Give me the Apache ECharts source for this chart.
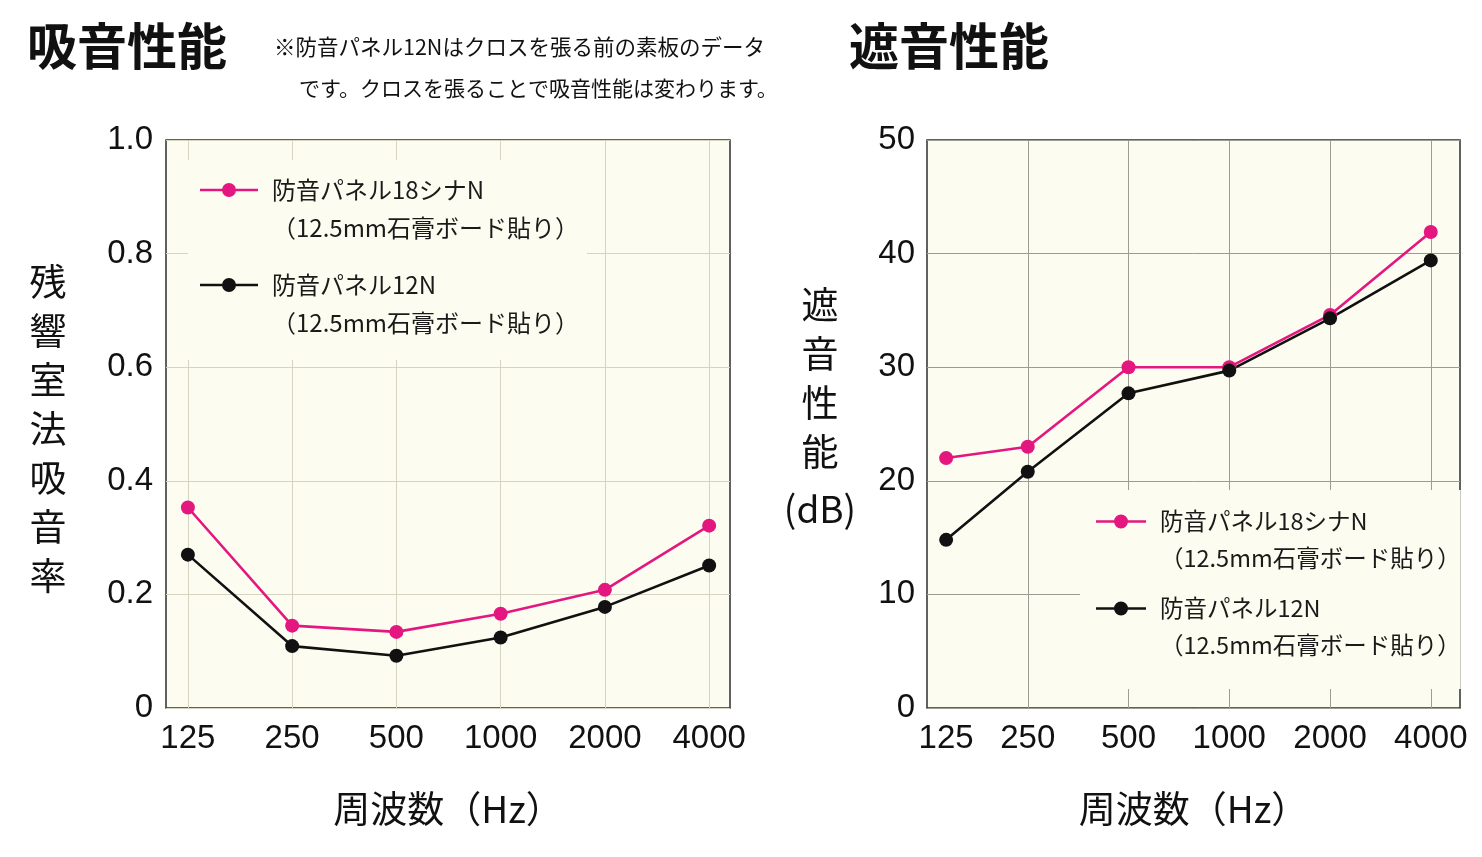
<!DOCTYPE html>
<html>
<head>
<meta charset="utf-8">
<script src="https://cdn.jsdelivr.net/npm/echarts@6/dist/echarts.min.js"></script>
<style>
html,body{margin:0;padding:0;background:#fff;}
#main{width:1482px;height:857px;}
</style>
</head>
<body>
<div id="main"></div>
<script>
// ---- data ----
const freqLabels = ['125', '250', '500', '1000', '2000', '4000'];
const seriesNames = ['防音パネル18シナN', '防音パネル12N'];
const seriesSubLabel = '（12.5mm石膏ボード貼り）';
// 吸音性能 (残響室法吸音率)
const absorptionShinaN = [0.353, 0.145, 0.134, 0.166, 0.208, 0.321];
const absorption12N    = [0.270, 0.109, 0.092, 0.124, 0.178, 0.251];
// 遮音性能 (dB)
const insulationShinaN = [22.0, 23.0, 30.0, 30.0, 34.6, 41.9];
const insulation12N    = [14.8, 20.8, 27.7, 29.7, 34.3, 39.4];

// axis positions of the frequency bands (left chart evenly spaced; right chart 125 squeezed in)
const absorptionXPos = [0, 1, 2, 3, 4, 5];
const insulationXPos = [0.19, 1, 2, 3, 4, 5];

const PINK = '#e3177f';
const BLACK = '#111111';
const CJK = '"Noto Sans CJK JP", "Noto Sans", sans-serif';
const NUM = '"Liberation Sans Narrow", "Liberation Sans", Arial, sans-serif';

function pairs(xs, ys) { return xs.map((x, i) => [x, ys[i]]); }
function labelFor(xs) {
  return function (v) {
    for (let i = 0; i < xs.length; i++) if (Math.abs(xs[i] - v) < 1e-6) return freqLabels[i];
    return '';
  };
}
// legend icon: line + dot aligned with the first text line
function legendIcon(w, h, cy, r, lw) {
  const y0 = cy - lw / 2, y1 = cy + lw / 2;
  const cx = w / 2;
  return 'path://' +
    'M0 0L0.01 0L0 0.01Z ' +
    'M' + w + ' ' + h + 'L' + (w - 0.01) + ' ' + h + 'L' + w + ' ' + (h - 0.01) + 'Z ' +
    'M0 ' + y0 + 'L' + w + ' ' + y0 + 'L' + w + ' ' + y1 + 'L0 ' + y1 + 'Z ' +
    'M' + (cx - r) + ' ' + cy + 'A' + r + ' ' + r + ' 0 1 1 ' + (cx + r) + ' ' + cy +
    'A' + r + ' ' + r + ' 0 1 1 ' + (cx - r) + ' ' + cy + 'Z';
}

const chart = echarts.init(document.getElementById('main'));

function lineSeries(name, color, xi, yi, xs, ys) {
  return {
    type: 'line', name: name, xAxisIndex: xi, yAxisIndex: yi,
    data: pairs(xs, ys),
    symbol: 'circle', symbolSize: 14,
    lineStyle: { color: color, width: 2.6 },
    itemStyle: { color: color, borderWidth: 0 },
    emphasis: { disabled: true },
    animation: false
  };
}

const vNameRich = {
  c: { fontSize: 37, lineHeight: 49, fontFamily: CJK, color: '#111', align: 'center' },
  d: { fontSize: 37, lineHeight: 65, fontFamily: CJK, color: '#111', align: 'center' },
  e: { fontSize: 9, lineHeight: 9, color: 'transparent' },
  f: { fontSize: 26, lineHeight: 26, color: 'transparent' }
};

const option = {
  backgroundColor: '#ffffff',
  animation: false,
  title: [
    { text: '吸音性能', left: 27, top: 21, padding: 0,
      textStyle: { fontSize: 50, fontWeight: 'bold', fontFamily: CJK, color: '#111' } },
    { text: '遮音性能', left: 849, top: 21, padding: 0,
      textStyle: { fontSize: 50, fontWeight: 'bold', fontFamily: CJK, color: '#111' } },
    { text: '※防音パネル12Nはクロスを張る前の素板のデータ', left: 274, top: 36, padding: 0,
      textStyle: { fontSize: 21.5, fontWeight: 'normal', fontFamily: CJK, color: '#111' } },
    { text: 'です。クロスを張ることで吸音性能は変わります。', left: 299, top: 78, padding: 0,
      textStyle: { fontSize: 21, fontWeight: 'normal', fontFamily: CJK, color: '#111' } }
  ],
  grid: [
    { left: 166, right: 1482 - 730, top: 140, bottom: 857 - 708, show: true,
      backgroundColor: '#fdfcf0', borderColor: '#2e2e2e', borderWidth: 1.5 },
    { left: 927, right: 1482 - 1460, top: 140, bottom: 857 - 708, show: true,
      backgroundColor: '#fdfcf0', borderColor: '#2e2e2e', borderWidth: 1.5 }
  ],
  xAxis: [
    { type: 'value', gridIndex: 0, min: -0.21, max: 5.2,
      axisLine: { show: false },
      axisTick: { show: false, customValues: absorptionXPos },
      axisLabel: { customValues: absorptionXPos, formatter: labelFor(absorptionXPos),
        fontSize: 33, fontFamily: NUM, color: '#111', margin: 14 },
      splitLine: { show: true, lineStyle: { color: '#d6d3c1', width: 1 } },
      name: '周波数（Hz）', nameLocation: 'middle', nameGap: 82,
      nameTextStyle: { fontSize: 37, fontFamily: CJK, color: '#111' } },
    { type: 'value', gridIndex: 1, min: 0, max: 5.29,
      axisLine: { show: false },
      axisTick: { show: false, customValues: [1, 2, 3, 4, 5] },
      axisLabel: { customValues: insulationXPos, formatter: labelFor(insulationXPos),
        fontSize: 33, fontFamily: NUM, color: '#111', margin: 14 },
      splitLine: { show: true, lineStyle: { color: '#9c9b94', width: 1 } },
      name: '周波数（Hz）', nameLocation: 'middle', nameGap: 82,
      nameTextStyle: { fontSize: 37, fontFamily: CJK, color: '#111' } }
  ],
  yAxis: [
    { type: 'value', gridIndex: 0, min: 0, max: 1, interval: 0.2,
      axisLine: { show: false }, axisTick: { show: false },
      axisLabel: { fontSize: 33, fontFamily: NUM, color: '#111', margin: 13,
        formatter: v => (v === 0 ? '0' : v.toFixed(1)) },
      splitLine: { show: true, lineStyle: { color: '#d6d3c1', width: 1 } },
      name: '{e| }\n{c|残}\n{c|響}\n{c|室}\n{c|法}\n{c|吸}\n{c|音}\n{c|率}',
      nameLocation: 'middle', nameGap: 118, nameRotate: 0,
      nameTextStyle: { fontSize: 37, lineHeight: 49, fontFamily: CJK, color: '#111',
        align: 'center', verticalAlign: 'middle', rich: vNameRich } },
    { type: 'value', gridIndex: 1, min: 0, max: 50, interval: 10,
      axisLine: { show: false }, axisTick: { show: false },
      axisLabel: { fontSize: 33, fontFamily: NUM, color: '#111', margin: 12 },
      splitLine: { show: true, lineStyle: { color: '#9c9b94', width: 1 } },
      name: '{c|遮}\n{c|音}\n{c|性}\n{c|能}\n{d|(dB)}\n{f| }',
      nameLocation: 'middle', nameGap: 107, nameRotate: 0,
      nameTextStyle: { fontSize: 37, lineHeight: 49, fontFamily: CJK, color: '#111',
        align: 'center', verticalAlign: 'middle', rich: vNameRich } }
  ],
  legend: [
    { orient: 'vertical', left: 188, top: 160, padding: [11, 8, 18, 12],
      backgroundColor: '#fdfcf0', itemGap: 19, itemWidth: 58, itemHeight: 76,
      icon: legendIcon(58, 76, 19, 7, 2.6), symbolKeepAspect: false,
      itemStyle: { borderWidth: 0 },
      data: seriesNames, selectedMode: false,
      formatter: n => n + '\n' + seriesSubLabel,
      textStyle: { fontSize: 24, lineHeight: 38, fontFamily: CJK, color: '#1a1a1a', padding: [0, 0, 0, 9] } },
    { orient: 'vertical', left: 1080, top: 490, padding: [13, 0, 25, 16],
      backgroundColor: '#fdfcf0', itemGap: 13, itemWidth: 50, itemHeight: 74,
      icon: legendIcon(50, 74, 18.5, 7, 2.6), symbolKeepAspect: false,
      itemStyle: { borderWidth: 0 },
      data: seriesNames, selectedMode: false,
      formatter: n => n + '\n' + seriesSubLabel,
      textStyle: { fontSize: 23.5, lineHeight: 37, fontFamily: CJK, color: '#1a1a1a', padding: [0, 0, 0, 9] } }
  ],
  series: [
    lineSeries(seriesNames[0], PINK, 0, 0, absorptionXPos, absorptionShinaN),
    lineSeries(seriesNames[1], BLACK, 0, 0, absorptionXPos, absorption12N),
    lineSeries(seriesNames[0], PINK, 1, 1, insulationXPos, insulationShinaN),
    lineSeries(seriesNames[1], BLACK, 1, 1, insulationXPos, insulation12N)
  ]
};
chart.setOption(option);
</script>
</body>
</html>
